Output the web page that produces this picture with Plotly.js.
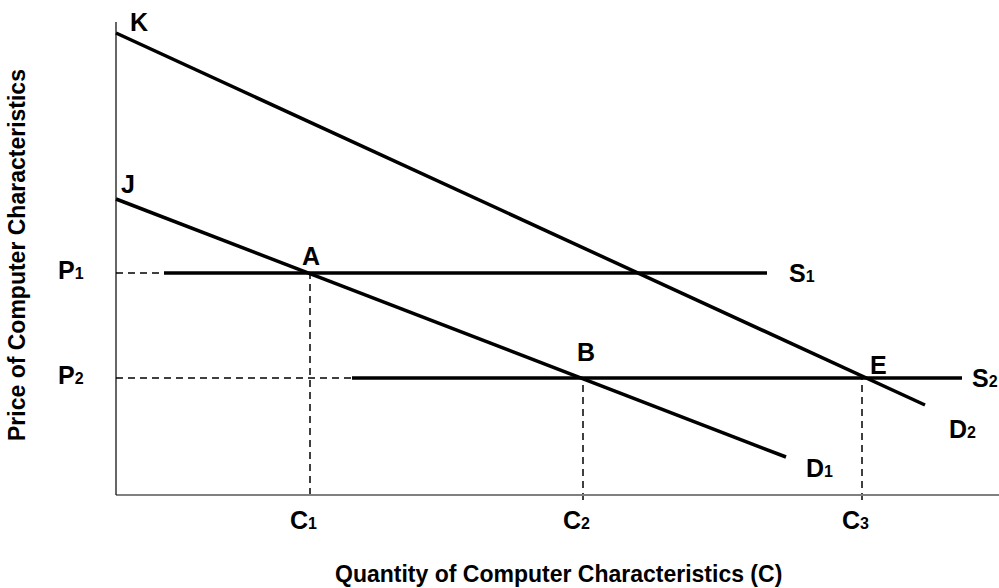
<!DOCTYPE html>
<html>
<head>
<meta charset="utf-8">
<script src="https://cdn.plot.ly/plotly-3.0.1.min.js"></script>
<style>html,body{margin:0;padding:0;background:#fff;}#chart{width:999px;height:588px;}</style>
</head>
<body>
<div id="chart"></div>
<script>
// Demand curves (quantity, price)
const d1Quantity = [0, 670];
const d1Price = [296, 38];
const d2Quantity = [0, 809];
const d2Price = [462, 90];
// Supply curves
const s1Quantity = [48, 651];
const s1Price = [222, 222];
const s2Quantity = [236, 846];
const s2Price = [117, 117];
// Equilibrium levels
const priceLevels = [222, 117];          // P1, P2
const quantityLevels = [194, 467, 746];  // C1, C2, C3
const priceNames = ['P', 'P'];
const priceSubs = ['1', '2'];
const quantityNames = ['C', 'C', 'C'];
const quantitySubs = ['1', '2', '3'];

const FONT = 'Liberation Sans, Arial, sans-serif';
const solid = {color: '#000', width: 3.5};
const dashed = {color: '#000', width: 1.5, dash: '7px,5px'};

const traces = [
  {x: d2Quantity, y: d2Price, mode: 'lines', line: solid, name: 'D2'},
  {x: d1Quantity, y: d1Price, mode: 'lines', line: solid, name: 'D1'},
  {x: s1Quantity, y: s1Price, mode: 'lines', line: solid, name: 'S1'},
  {x: s2Quantity, y: s2Price, mode: 'lines', line: solid, name: 'S2'},
  {x: [0, s1Quantity[0]], y: [priceLevels[0], priceLevels[0]], mode: 'lines', line: dashed},
  {x: [0, s2Quantity[0]], y: [priceLevels[1], priceLevels[1]], mode: 'lines', line: dashed},
  {x: [quantityLevels[0], quantityLevels[0]], y: [0, priceLevels[0]], mode: 'lines', line: dashed},
  {x: [quantityLevels[1], quantityLevels[1]], y: [-5, priceLevels[1]], mode: 'lines', line: dashed},
  {x: [quantityLevels[2], quantityLevels[2]], y: [-5, priceLevels[1]], mode: 'lines', line: dashed}
];

const sub = (main, s) => '<b>' + main + (s ? '<span style="font-size:16px">' + s + '</span>' : '') + '</b>';
const lbl = (main, s, x, y, xanchor) => ({
  text: sub(main, s), x: x, y: y, xref: 'x', yref: 'y', showarrow: false,
  xanchor: xanchor || 'center', yanchor: 'middle',
  font: {family: FONT, size: 25, color: '#000'}
});

const annotations = [
  lbl('K', '', 23, 473),
  lbl('J', '', 12, 311),
  lbl('A', '', 195, 239),
  lbl('B', '', 470, 143),
  lbl('E', '', 762, 130),
  lbl('S', '1', 671, 222, 'left'),
  lbl('S', '2', 854, 117, 'left'),
  lbl('D', '1', 688, 27, 'left'),
  lbl('D', '2', 831, 66, 'left'),
  lbl(priceNames[0], priceSubs[0], -45, priceLevels[0] + 3),
  lbl(priceNames[1], priceSubs[1], -45, priceLevels[1] + 3),
  lbl(quantityNames[0], quantitySubs[0], quantityLevels[0] - 7, -25),
  lbl(quantityNames[1], quantitySubs[1], quantityLevels[1] - 7, -25),
  lbl(quantityNames[2], quantitySubs[2], quantityLevels[2] - 7, -25),
  {text: '<b>Quantity of Computer Characteristics (C)</b>', xref: 'x', yref: 'y',
   x: 442, y: -79, showarrow: false, xanchor: 'center', yanchor: 'middle',
   font: {family: FONT, size: 23, color: '#000'}},
  {text: '<b>Price of Computer Characteristics</b>', xref: 'x', yref: 'y',
   x: -99, y: 240, showarrow: false, xanchor: 'center', yanchor: 'middle', textangle: -90,
   font: {family: FONT, size: 23, color: '#000'}}
];

const shapes = [
  {type: 'line', xref: 'x', yref: 'y', x0: 0, x1: 883, y0: 0, y1: 0, line: {color: '#808080', width: 2}},
  {type: 'line', xref: 'x', yref: 'y', x0: 0, x1: 0, y0: 0, y1: 473, line: {color: '#000', width: 1.2}}
];

const layout = {
  width: 999, height: 588,
  margin: {l: 0, r: 0, t: 0, b: 0, pad: 0},
  paper_bgcolor: '#fff', plot_bgcolor: '#fff',
  showlegend: false,
  xaxis: {range: [-116, 883], visible: false, fixedrange: true},
  yaxis: {range: [-93, 495], visible: false, fixedrange: true},
  annotations: annotations,
  shapes: shapes
};

Plotly.newPlot('chart', traces, layout, {displayModeBar: false, staticPlot: true});
</script>
</body>
</html>
